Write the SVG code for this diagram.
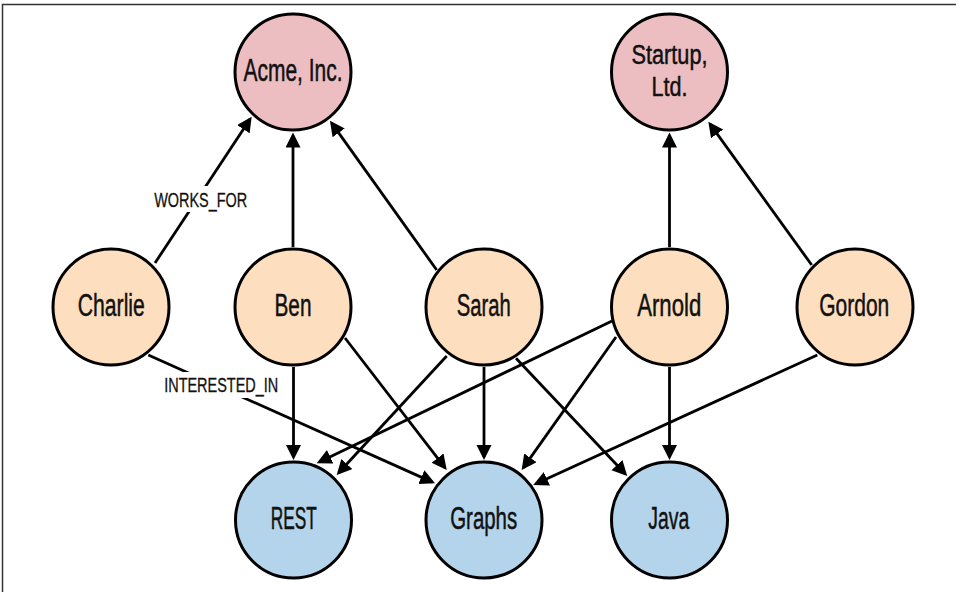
<svg xmlns="http://www.w3.org/2000/svg" width="956" height="592" viewBox="0 0 956 592">
<style>
.n circle{stroke:#000;stroke-width:3}
.org circle{fill:#ECBEC2}
.per circle{fill:#FDDFBF}
.top circle{fill:#B3D4EA}
text{font-family:"Liberation Sans",Arial,sans-serif;fill:#111}
.nt{font-size:31px;text-anchor:middle;stroke:#111;stroke-width:0.5}
.nt2{font-size:27px;text-anchor:middle;stroke:#111;stroke-width:0.5}
.lt{font-size:20px;text-anchor:middle;stroke:#111;stroke-width:0.3}
#edges line{stroke:#000;stroke-width:2.8;marker-end:url(#ah)}
</style>
<defs>
<marker id="ah" markerUnits="userSpaceOnUse" markerWidth="17" markerHeight="16" refX="12" refY="7.5" orient="auto">
<path d="M0,0 L15,7.5 L0,15 z" fill="#000"/>
</marker>
</defs>
<rect x="0" y="0" width="956" height="592" fill="#fff"/>
<rect x="2.5" y="4.5" width="1000" height="1000" fill="none" stroke="#333" stroke-width="1.5"/>
<g id="edges">
<line x1="155" y1="263" x2="250.0" y2="119.2"/>
<line x1="293" y1="247" x2="293" y2="135.5"/>
<line x1="436.7" y1="270" x2="331.7" y2="123.1"/>
<line x1="669.5" y1="247" x2="669.5" y2="135.5"/>
<line x1="811.7" y1="265" x2="710.1" y2="124.1"/>
<line x1="148.3" y1="355" x2="432.3" y2="482.1"/>
<line x1="293.5" y1="367" x2="293.5" y2="457"/>
<line x1="345" y1="338" x2="444.9" y2="467.6"/>
<line x1="446.7" y1="356" x2="338.7" y2="472.8"/>
<line x1="484" y1="367" x2="484" y2="457"/>
<line x1="516" y1="358.3" x2="625.2" y2="473.8"/>
<line x1="612" y1="321" x2="319.4" y2="462.0"/>
<line x1="616" y1="337" x2="523.4" y2="467.6"/>
<line x1="669.5" y1="367" x2="669.5" y2="457"/>
<line x1="817.3" y1="355" x2="536.0" y2="483.8"/>
</g>
<g id="labels">
<rect x="151" y="186" width="99" height="26" fill="#fff"/>
<text class="lt" x="200.7" y="206.7" textLength="93" lengthAdjust="spacingAndGlyphs">WORKS_FOR</text>
<rect x="161" y="372" width="120" height="26" fill="#fff"/>
<text class="lt" x="221.2" y="392.3" textLength="114" lengthAdjust="spacingAndGlyphs">INTERESTED_IN</text>
</g>
<g id="acme" class="n org"><circle cx="293" cy="72" r="58"/><text class="nt" x="293" y="81" textLength="99" lengthAdjust="spacingAndGlyphs">Acme, Inc.</text></g>
<g id="startup" class="n org"><circle cx="669.5" cy="72" r="58"/><text class="nt2" x="669.5" y="64" textLength="76" lengthAdjust="spacingAndGlyphs">Startup,</text><text class="nt2" x="669.5" y="96" textLength="36" lengthAdjust="spacingAndGlyphs">Ltd.</text></g>
<g id="charlie" class="n per"><circle cx="111" cy="307" r="58"/><text class="nt" x="111.3" y="316" textLength="67" lengthAdjust="spacingAndGlyphs">Charlie</text></g>
<g id="ben" class="n per"><circle cx="293" cy="307" r="58"/><text class="nt" x="293" y="316" textLength="37" lengthAdjust="spacingAndGlyphs">Ben</text></g>
<g id="sarah" class="n per"><circle cx="484" cy="307" r="58"/><text class="nt" x="483.7" y="316" textLength="54" lengthAdjust="spacingAndGlyphs">Sarah</text></g>
<g id="arnold" class="n per"><circle cx="669.5" cy="307" r="58"/><text class="nt" x="669.2" y="316" textLength="64" lengthAdjust="spacingAndGlyphs">Arnold</text></g>
<g id="gordon" class="n per"><circle cx="855" cy="307" r="58"/><text class="nt" x="854.3" y="316" textLength="70" lengthAdjust="spacingAndGlyphs">Gordon</text></g>
<g id="rest" class="n top"><circle cx="293.5" cy="520" r="58"/><text class="nt" x="293.7" y="529.3" textLength="46" lengthAdjust="spacingAndGlyphs">REST</text></g>
<g id="graphs" class="n top"><circle cx="484" cy="520" r="58"/><text class="nt" x="483.7" y="529.3" textLength="67" lengthAdjust="spacingAndGlyphs">Graphs</text></g>
<g id="java" class="n top"><circle cx="669.5" cy="520" r="58"/><text class="nt" x="668.8" y="529.3" textLength="41" lengthAdjust="spacingAndGlyphs">Java</text></g>
</svg>
